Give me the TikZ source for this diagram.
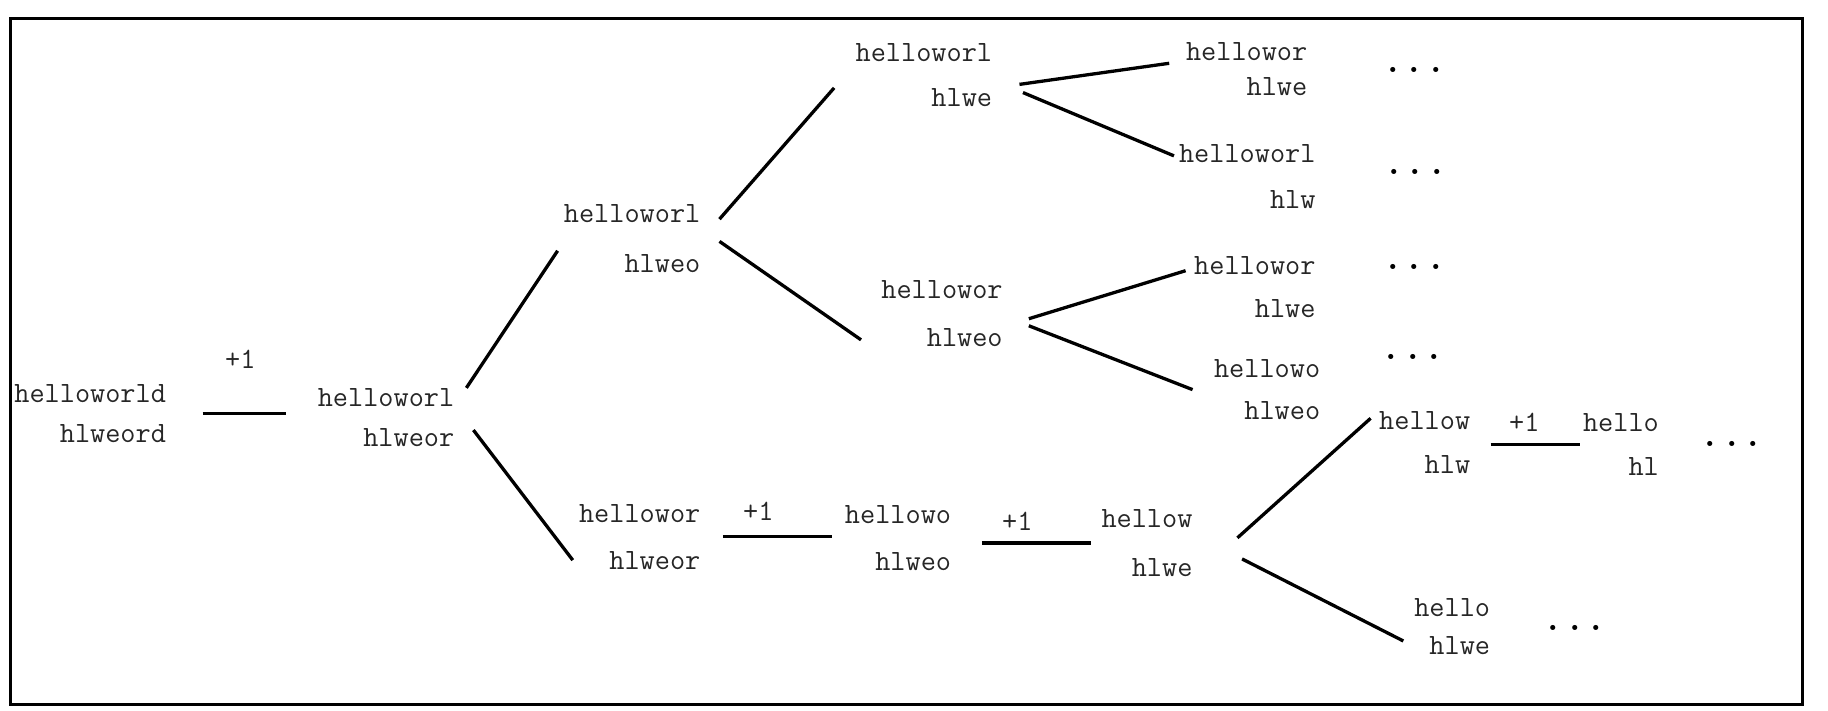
\documentclass[tikz,border=0pt]{standalone}
\usepackage{fontspec}
\usepackage{tikz}

\tikzset{
  word/.style = {align=right, inner sep=0pt, anchor=east, text=black!85,
                 font=\fontsize{14.3}{20}\selectfont\ttfamily},
  link/.style = {line width=1.6pt},
  plus/.style = {inner sep=0pt, text=black!85, font=\fontsize{14.3}{16}\selectfont\ttfamily},
  more/.style = {inner sep=0pt, font=\fontsize{18}{20}\selectfont\ttfamily\bfseries}
}
\newcommand{\moredots}{.\hspace{1pt}.\hspace{1pt}.}

\begin{document}
\begin{tikzpicture}[x=0.02cm, y=-0.02cm]
    \useasboundingbox (0,0) rectangle (1560,606);
    \draw[line width=1.4pt] (9,16) rectangle (1538,601);

    % the strings
    \node[word] (start) at (142,353) {helloworld\\[-0.6pt]hlweord};
    \node[word] (b) at (388,356) {helloworl\\[-0.6pt]hlweor};
    \node[word] (c) at (598,203.5) {helloworl\\[4.6pt]hlweo};
    \node[word] (d) at (847,64) {helloworl\\[1.7pt]hlwe};
    \node[word] (d1) at (1116,59) {hellowor\\[-2.8pt]hlwe};
    \node[word] (d2) at (1123,150.5) {helloworl\\[2.3pt]hlw};
    \node[word] (e) at (856,267.5) {hellowor\\[3.4pt]hlweo};
    \node[word] (e1) at (1123,245) {hellowor\\[0.6pt]hlwe};
    \node[word] (e2) at (1127,332.5) {hellowo\\hlweo};
    \node[word] (f) at (598,458) {hellowor\\[2.8pt]hlweor};
    \node[word] (g) at (812,459) {hellowo\\[2.8pt]hlweo};
    \node[word] (h) at (1018,463.5) {hellow\\[3.4pt]hlwe};
    \node[word] (h1) at (1255,377.5) {hellow\\[1.1pt]hlw};
    \node[word] (h1b) at (1416,379.5) {hello\\[1.1pt]hl};
    \node[word] (h2) at (1272,535) {hello\\[-1.7pt]hlwe};

    % dots
    \node[more] (dots1) at (1207,60) {\moredots};
    \node[more] (dots2) at (1208,147) {\moredots};
    \node[more] (dots3) at (1207,228) {\moredots};
    \node[more] (dots4) at (1206,305) {\moredots};
    \node[more] (dots5) at (1478,379) {\moredots};
    \node[more] (dots6) at (1344,536) {\moredots};

    % +1 steps
    \draw[link, shorten <=0.62cm, shorten >=0.54cm] (start.east) -- (start.east -| b.west)
        node[plus, pos=0.49, above=0.74cm] {+1};
    \draw[link, shorten <=0.38cm, shorten >=0.22cm] (f.east) -- (f.east -| g.west)
        node[plus, pos=0.4, above=0.24cm] {+1};
    \draw[link, shorten <=0.52cm, shorten >=0.18cm] (g.east |- h.west) -- (h.west)
        node[plus, pos=0.44, above=0.18cm] {+1};
    \draw[link, shorten <=0.34cm, shorten >=0.04cm] (h1b.west -| h1.east) -- (h1b.west)
        node[plus, pos=0.48, above=0.2cm] {+1};

    % branches
    \draw[link] ([shift={(10,-25)}]b.east) -- ([shift={(-5,10.5)}]c.west);
    \draw[link] ([shift={(16,11)}]b.east) -- ([shift={(-5,20)}]f.west);
    \draw[link] ([shift={(16,-16.5)}]c.east) -- ([shift={(-18,11)}]d.west);
    \draw[link] ([shift={(16,2.5)}]c.east) -- ([shift={(-17,22.5)}]e.west);
    \draw[link] ([shift={(23,8)}]d.east) -- ([shift={(-14,-5)}]d1.west);
    \draw[link] ([shift={(26,15)}]d.east) -- ([shift={(-4,-17.5)}]d2.west);
    \draw[link] ([shift={(22,4.5)}]e.east) -- ([shift={(-7,-14)}]e1.west);
    \draw[link] ([shift={(22,10.5)}]e.east) -- ([shift={(-18,0)}]e2.west);
    \draw[link] ([shift={(38,-4.5)}]h.east) -- ([shift={(-7,-20.5)}]h1.west);
    \draw[link] ([shift={(42,13.5)}]h.east) -- ([shift={(-9,12)}]h2.west);
\end{tikzpicture}
\end{document}
